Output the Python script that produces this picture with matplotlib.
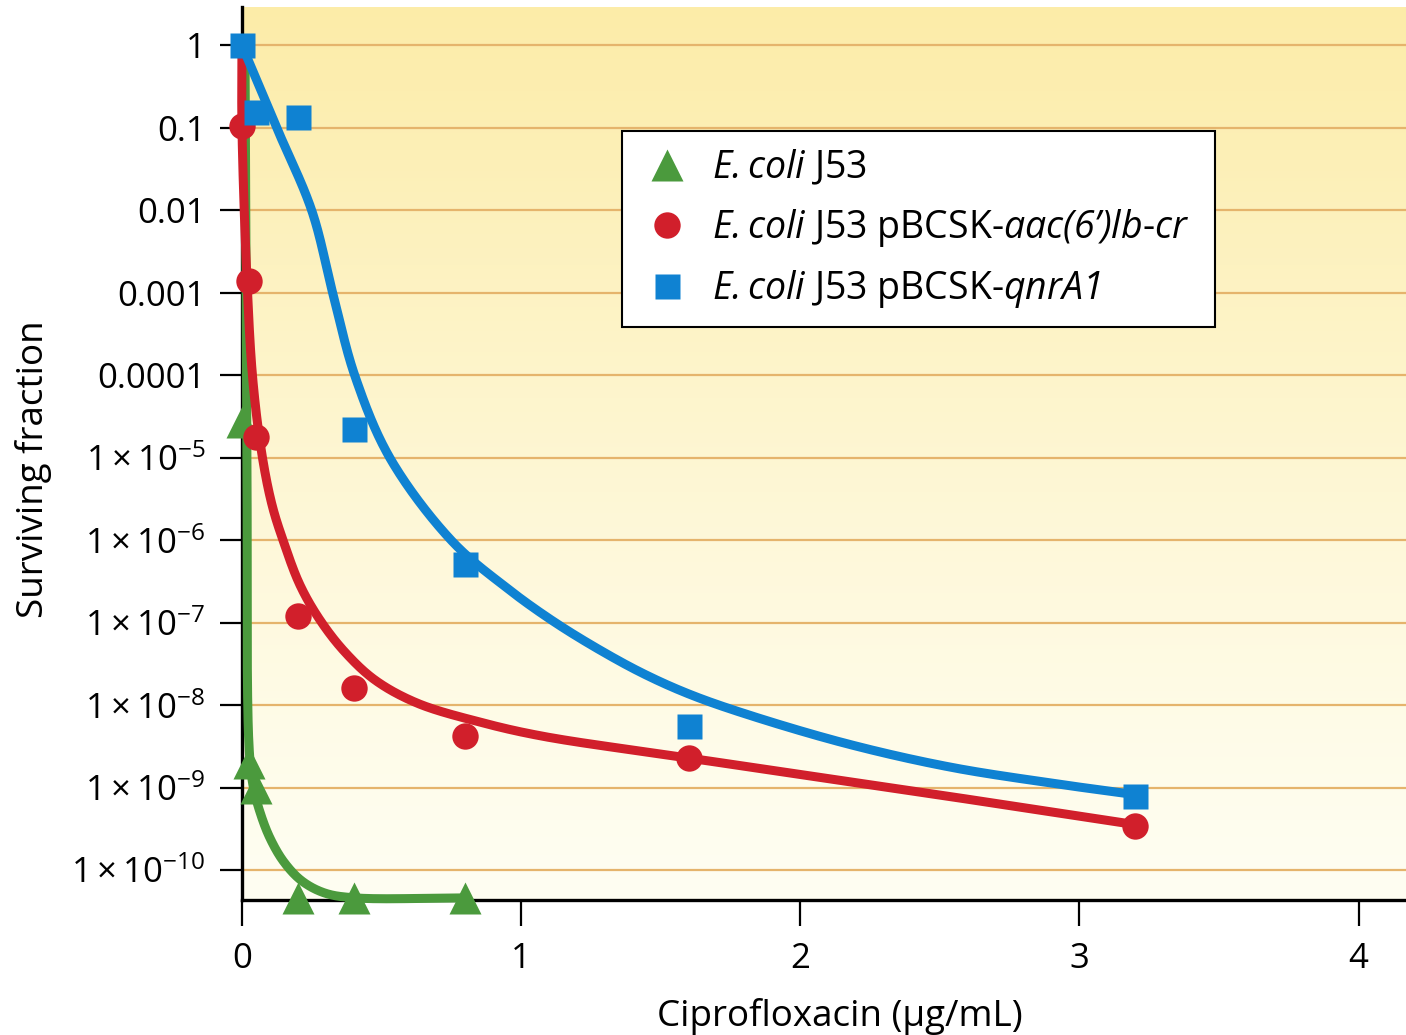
import numpy as np
import matplotlib
matplotlib.use("Agg")
import matplotlib.pyplot as plt
from matplotlib.lines import Line2D

plt.rcParams['font.family'] = ['Open Sans', 'DejaVu Sans']
plt.rcParams['mathtext.fontset'] = 'custom'
plt.rcParams['mathtext.rm'] = 'Open Sans'
plt.rcParams['mathtext.it'] = 'Open Sans:italic'
plt.rcParams['mathtext.sf'] = 'Open Sans:italic'
plt.rcParams['mathtext.bf'] = 'Open Sans:bold'

# Measured points (ciprofloxacin ug/mL vs surviving fraction)
j53_x = [0.0, 0.025, 0.05, 0.2, 0.4, 0.8]
j53_y = [2.7e-5, 2.0e-9, 1.0e-9, 4.6e-11, 4.6e-11, 4.6e-11]

aac_x = [0.0, 0.025, 0.05, 0.2, 0.4, 0.8, 1.6, 3.2]
aac_y = [0.105, 1.4e-3, 1.8e-5, 1.2e-7, 1.6e-8, 4.2e-9, 2.3e-9, 3.4e-10]

qnr_x = [0.0, 0.05, 0.2, 0.4, 0.8, 1.6, 3.2]
qnr_y = [1.0, 0.155, 0.135, 2.2e-5, 5.2e-7, 5.6e-9, 8.0e-10]

# Fitted curves, knots
j53_fit_x = [0.0108, 0.0179, 0.0251, 0.0394, 0.0645, 0.1004, 0.1505, 0.215,
             0.297, 0.405, 0.8]
j53_fit_y = [1.0, 1.23e-5, 3.27e-9, 1.07e-9, 5.05e-10, 2.44e-10, 1.25e-10,
             7.36e-11, 5.26e-11, 4.6e-11, 4.6e-11]

aac_fit_x = [0.0, 0.0, 0.018, 0.039, 0.072, 0.108, 0.147, 0.208, 0.280, 0.369,
             0.477, 0.627, 0.853, 1.075, 1.602, 2.405, 3.211]
aac_fit_y = [1.0, 0.101, 1.42e-3, 8.7e-5, 1.07e-5, 2.65e-6, 1.0e-6, 2.85e-7,
             1.07e-7, 4.39e-8, 2.01e-8, 1.06e-8, 6.22e-9, 4.21e-9, 2.28e-9,
             9.08e-10, 3.51e-10]

qnr_fit_x = [0.0, 0.1254, 0.2509, 0.3262, 0.4050, 0.5305, 0.7527, 0.9498,
             1.115, 1.283, 1.441, 1.602, 1.806, 2.172, 2.538, 2.903, 3.211]
qnr_fit_y = [1.0, 0.0986, 9.72e-3, 9.59e-4, 9.72e-5, 9.86e-6, 9.72e-7, 2.62e-7,
             1.04e-7, 4.64e-8, 2.38e-8, 1.36e-8, 7.78e-9, 3.37e-9, 1.77e-9,
             1.13e-9, 8.11e-10]

ytick_vals = [1, 0.1, 0.01, 0.001, 1e-4, 1e-5, 1e-6, 1e-7, 1e-8, 1e-9, 1e-10]
ytick_labels = ['1', '0.1', '0.01', '0.001', '0.0001'] + \
    [r'$1\times10^{-%d}$' % k for k in range(5, 11)]
xtick_vals = [0, 1, 2, 3, 4]

labels = [
    r'$\mathsf{E.coli}$ J53',
    r"$\mathsf{E.coli}$ J53 pBCSK-$\mathsf{aac(6’)lb}$-$\mathsf{cr}$  ",
    r'$\mathsf{E.coli}$ J53 pBCSK-$\mathsf{qnrA1}$',
]

GREEN = '#4b9a3d'
RED = '#d11f2b'
BLUE = '#0f82d2'


def smooth_curve(xs, ys, n=40):
    """Centripetal Catmull-Rom through the knots, in (x, log y) space."""
    P = np.column_stack([np.asarray(xs) * 279.0, np.log10(ys) * 82.5])
    P = np.vstack([2 * P[0] - P[1], P, 2 * P[-1] - P[-2]])
    out = []
    for i in range(len(P) - 3):
        p0, p1, p2, p3 = P[i], P[i + 1], P[i + 2], P[i + 3]
        t0 = 0.0
        t1 = t0 + max(np.linalg.norm(p1 - p0), 1e-6) ** 0.5
        t2 = t1 + max(np.linalg.norm(p2 - p1), 1e-6) ** 0.5
        t3 = t2 + max(np.linalg.norm(p3 - p2), 1e-6) ** 0.5
        t = np.linspace(t1, t2, n)[:, None]
        a1 = (t1 - t) / (t1 - t0) * p0 + (t - t0) / (t1 - t0) * p1
        a2 = (t2 - t) / (t2 - t1) * p1 + (t - t1) / (t2 - t1) * p2
        a3 = (t3 - t) / (t3 - t2) * p2 + (t - t2) / (t3 - t2) * p3
        b1 = (t2 - t) / (t2 - t0) * a1 + (t - t0) / (t2 - t0) * a2
        b2 = (t3 - t) / (t3 - t1) * a2 + (t - t1) / (t3 - t1) * a3
        out.append((t2 - t) / (t2 - t1) * b1 + (t - t1) / (t2 - t1) * b2)
    C = np.vstack(out)
    return C[:, 0] / 279.0, 10 ** (C[:, 1] / 82.5)


fig = plt.figure(figsize=(14.06, 10.35), dpi=100)
ax = fig.add_axes([0.1721, 0.1304, 0.8279, 0.8626])
ax.set_yscale('log')
ax.set_xlim(0, 4.17)
ax.set_ylim(4.33e-11, 2.9)

# yellow gradient background
grad = np.linspace(0, 1, 256)[:, None]
top = np.array([252, 236, 168]) / 255.0
bot = np.array([255, 254, 242]) / 255.0
img = bot + (top - bot) * grad[..., None] ** 1.2
ax.imshow(img, extent=[0, 1, 0, 1], transform=ax.transAxes, aspect='auto',
          origin='lower', zorder=0)

ax.set_axisbelow(True)
ax.grid(axis='y', which='major', color='#e5b46c', lw=1.6)
ax.grid(axis='y', which='minor', visible=False)

series = [
    (j53_fit_x, j53_fit_y, j53_x, j53_y, GREEN, '^', 23),
    (aac_fit_x, aac_fit_y, aac_x, aac_y, RED, 'o', 19),
    (qnr_fit_x, qnr_fit_y, qnr_x, qnr_y, BLUE, 's', 18),
]
for k, (fx, fy, px, py, col, mk, ms) in enumerate(series):
    cx, cy = smooth_curve(fx, fy)
    ax.plot(cx, cy, color=col, lw=6.5, solid_capstyle='round', zorder=3 + k,
            clip_on=False)
    ax.plot(px, py, ls='none', marker=mk, ms=ms, color=col, mec='none',
            zorder=3 + k, clip_on=False)

ax.set_yticks(ytick_vals)
ax.set_yticklabels(ytick_labels)
ax.yaxis.set_minor_locator(matplotlib.ticker.NullLocator())
ax.set_xticks(xtick_vals)
ax.set_xticklabels([str(v) for v in xtick_vals])
ax.tick_params(axis='y', length=16, width=1.6, pad=10, labelsize=25)
ax.tick_params(axis='x', length=19, width=1.6, pad=11, labelsize=25)

for s in ['top', 'right']:
    ax.spines[s].set_visible(False)
for s in ['left', 'bottom']:
    ax.spines[s].set_linewidth(2.4)
    ax.spines[s].set_zorder(2.5)

ax.set_xlabel('Ciprofloxacin (µg/mL)', fontsize=26.5)
ax.set_ylabel('Surviving fraction', fontsize=26.5)
ax.xaxis.set_label_coords(0.514, -0.11)
ax.yaxis.set_label_coords(-0.163, 0.483)

handles = [
    Line2D([], [], ls='none', marker='^', ms=23, color=GREEN, mec='none'),
    Line2D([], [], ls='none', marker='o', ms=19, color=RED, mec='none'),
    Line2D([], [], ls='none', marker='s', ms=18, color=BLUE, mec='none'),
]
leg = ax.legend(handles, labels, loc='upper left', bbox_to_anchor=(0.3265, 0.861),
                fontsize=27, frameon=True, fancybox=False, edgecolor='black',
                framealpha=1, borderpad=0.45, labelspacing=0.52, handlelength=1.5,
                handletextpad=0.45, borderaxespad=0)
leg.get_frame().set_linewidth(1.5)
leg.set_zorder(10)

fig.savefig('out.png', dpi=100)
